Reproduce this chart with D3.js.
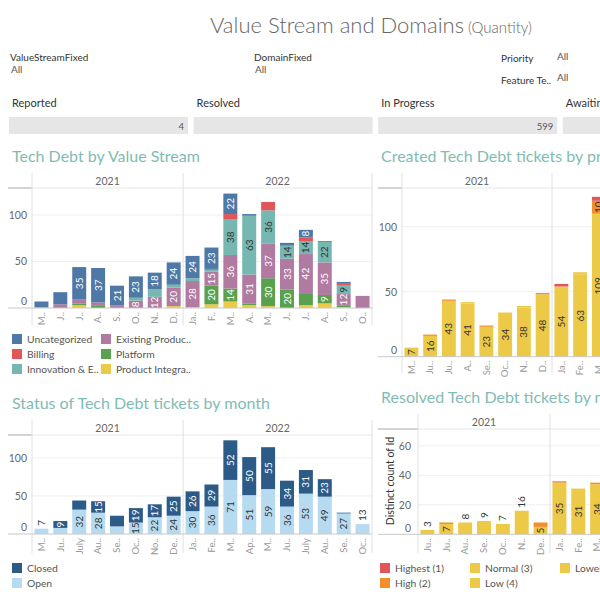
<!DOCTYPE html>
<html><head><meta charset="utf-8">
<script src="https://cdn.jsdelivr.net/npm/d3@7"></script>
<style>
body{margin:0;background:#fff;overflow:hidden;}
svg{font-family:Lato,"Open Sans",sans-serif;display:block;}
</style></head><body>
<svg id="c" width="600" height="600"></svg>
<script>
// ---------------- DATA ----------------
const mainTitle = "Value Stream and Domains";
const subTitle = "(Quantity)";
const filterNames = ["ValueStreamFixed","DomainFixed","Priority","Feature Te.."];
const filterValues = ["All","All","All","All"];
const kpiNames = ["Reported","Resolved","In Progress","Awaiting"];
const kpiValues = ["4","","599",""];
const years = ["2021","2022"];

// Chart 1: Tech Debt by Value Stream
const vsTitle = "Tech Debt by Value Stream";
const vsMonths = ["M..","J..","J..","A..","S..","O..","N..","D..","Ja..","F..","M..","A..","M..","J..","J..","A..","S..","O.."];
const vsYear   = [0,0,0,0,0,0,0,0,1,1,1,1,1,1,1,1,1,1];
const productIntegra = [0,0,3,0,0,0,0,2, 1,4,7,3,2,0,3,5,1,0];
const platform       = [0,1,2,3,0,0,0,0, 0,20,14,2,30,20,13,9,2,1];
const existingProd   = [0,3,4,3,3,8,12,20, 28,15,36,31,37,33,42,35,12,12];
const innovation     = [1,0,0,0,0,3,8,3, 3,2,38,63,36,14,14,22,9,0];
const billing        = [0,0,0,0,0,0,0,0, 0,1,6,1,9,0,4,1,2,0];
const uncategorized  = [6,13,35,37,21,23,18,24, 24,23,22,1,0,3,8,0,2,0];
const vsHidden = ["unc|1","inn|6","pla|14","exi|17","bil|12"];
const vsTicks = [0,50,100];

// Chart 2: Created Tech Debt tickets by priority
const crTitle = "Created Tech Debt tickets by priority";
const crMonths = ["M..","Ju..","Ju..","A..","Se..","Oc..","N..","D..","Ja..","Fe..","M..","A..","M..","J..","J..","A..","S..","O.."];
const crYear   = [0,0,0,0,0,0,0,0,1,1,1,1,1,1,1,1,1,1];
const crNormal  = [7,16,43,41,23,34,38,48,54,63,109,null,null,null,null,null,null,null];
const crLow     = [0,0,0,1,0,0,1,0,0,2,1,null,null,null,null,null,null,null];
const crHigh    = [0,1,1,0,1,0,0,1,0,0,10,null,null,null,null,null,null,null];
const crHighest = [0,0,0,0,0,0,0,0,2,0,3,null,null,null,null,null,null,null];
const crTicks = [0,50,100];

// Chart 3: Status of Tech Debt tickets by month
const stTitle = "Status of Tech Debt tickets by month";
const stMonths = ["M..","Ju..","July","Au..","Se..","Oc..","No..","De..","Ja..","Fe..","M..","Ap..","M..","Ju..","July","Au..","Se..","Oc.."];
const stYear   = [0,0,0,0,0,0,0,0,1,1,1,1,1,1,1,1,1,1];
const stOpen   = [7,8,32,28,10,15,22,24, 30,36,71,51,59,36,53,49,27,13];
const stClosed = [0,9,12,15,14,19,17,25, 26,29,52,50,55,34,31,23,1,0];
const stHidden = ["ope|1","clo|2","ope|4","clo|4"];
const stTicks = [0,50,100];

// Chart 4: Resolved Tech Debt tickets by month
const rsTitle = "Resolved Tech Debt tickets by month";
const rsAxisTitle = "Distinct count of Id";
const rsMonths = ["Ju..","Ju..","Au..","Se..","Oc..","N..","De..","Ja..","Fe..","M..","A..","M..","J..","J..","A..","S..","O.."];
const rsYear   = [0,0,0,0,0,0,0,1,1,1,1,1,1,1,1,1,1];
const rsNormal  = [3,7,8,9,7,16,5,35,31,34,null,null,null,null,null,null,null];
const rsHigh    = [0,1,0,0,0,0,3,1,0,1,null,null,null,null,null,null,null];
const rsHighest = [0,0,0,0,0,0,0,0,0,0,null,null,null,null,null,null,null];
const rsTicks = [0,20,40,60];

// legends
const vsLegend = ["Uncategorized","Existing Produc..","Billing","Platform","Innovation & E..","Product Integra.."];
const stLegend = ["Closed","Open"];
const prLegend = ["Highest (1)","Normal (3)","Lowest (5)","High (2)","Low (4)"];

// ---------------- STYLE ----------------
const C = {unc:"#4e79a7", exi:"#b07aa1", bil:"#e15759", pla:"#59a14f", inn:"#76b7b2", pro:"#edc948",
  highest:"#e15759", high:"#f28e2b", normal:"#edc948", low:"#edc948", lowest:"#edc948",
  closed:"#2d5b88", open:"#b6dbf0"};
const TEAL = "#7fbcb4";
const F = 'Lato, "Open Sans", sans-serif';
const svg = d3.select("#c");

// ---------------- HEADER ----------------
const tt = svg.append("text").attr("x",210).attr("y",33).attr("fill","#666").style("font-size","22px").style("font-weight",300).text(mainTitle);
tt.append("tspan").attr("dx",4).style("font-size","15px").text(subTitle);

const filterLayout = [[10,57,11,69],[254,57,255,69],[501,58,557,56],[501,80,557,77]];
filterNames.forEach((f,i)=>{
  const p = filterLayout[i];
  svg.append("text").attr("x",p[0]).attr("y",p[1]+3.5).attr("fill","#333").style("font-size","10px").text(f);
  svg.append("text").attr("x",p[2]).attr("y",p[3]+3.5).attr("fill","#555").style("font-size","10px").text(filterValues[i]);
});
kpiNames.forEach((k,i)=>{
  const bx = 9 + i*184.6;
  svg.append("text").attr("x",bx+3).attr("y",107).attr("fill","#333").style("font-size","11px").text(k);
  svg.append("rect").attr("x",bx).attr("y",117).attr("width",179).attr("height",17).attr("fill","#e6e6e6");
  svg.append("text").attr("x",bx+175).attr("y",129.5).attr("text-anchor","end").attr("fill","#555").style("font-size","9.5px").text(kpiValues[i]);
});

// ---------------- CHART FUNCTION ----------------
function chart(o){
  const g = svg.append("g");
  const n = o.cats.length;
  const xEnd = o.x0 + o.step*n;
  const x = d3.scaleBand().domain(d3.range(n)).range([o.x0, xEnd]).paddingInner(0.26).paddingOuter(0.13);
  const y = d3.scaleLinear().domain([0,o.yMax]).range([o.base,o.hLine]);
  const step = x.step();
  const bound = i => o.x0 + step*i;

  g.append("text").attr("x",o.titleX).attr("y",o.titleY).attr("fill",TEAL).style("font-size","16px").text(o.title);

  g.append("g").selectAll("line").data(o.ticks.filter(t=>t>0)).join("line")
    .attr("x1",o.x0).attr("x2",xEnd).attr("y1",d=>y(d)).attr("y2",d=>y(d)).attr("stroke","#efefef");
  g.append("line").attr("x1",o.left).attr("x2",o.x0).attr("y1",o.hLine).attr("y2",o.hLine).attr("stroke","#d4d4d4").attr("stroke-width",2);
  g.append("line").attr("x1",o.x0).attr("x2",xEnd).attr("y1",o.hLine).attr("y2",o.hLine).attr("stroke","#e6e6e6");

  const panes = years.map((yr,k)=>{
    const idx = d3.range(n).filter(i=>o.yearIdx[i]===k);
    return {yr, a: bound(idx[0]), b: bound(idx[idx.length-1]+1)};
  });
  const vx = [panes[0].a, ...panes.map(p=>p.b)];
  g.append("g").selectAll("line").data(vx).join("line")
    .attr("x1",d=>d).attr("x2",d=>d).attr("y1",o.hTop).attr("y2",o.bottom).attr("stroke","#e0e0e0");
  g.append("g").selectAll("text").data(panes).join("text")
    .attr("x",d=>(d.a+d.b)/2).attr("y",o.hText).attr("text-anchor","middle").attr("fill","#666")
    .style("font-size","10.5px").text(d=>d.yr);

  const keys = o.series.map(s=>s.key);
  const rows = d3.range(n).map(i=>{const r={i}; o.series.forEach(s=>r[s.key]=s.values[i]); return r;});
  const stacked = d3.stack().keys(keys).value((d,k)=>d[k]==null?0:d[k])(rows);
  stacked.forEach((layer,li)=>{
    const s = o.series[li];
    g.append("g").selectAll("rect").data(layer.filter(d=>d[1]>d[0])).join("rect")
      .attr("x",d=>x(d.data.i)).attr("width",x.bandwidth())
      .attr("y",d=>y(d[1])).attr("height",d=>y(d[0])-y(d[1])).attr("fill",s.color);
  });

  g.append("line").attr("x1",o.left).attr("x2",xEnd).attr("y1",y(0)).attr("y2",y(0)).attr("stroke","#c8c8c8");

  const lg = g.append("g").style("font-size","10px");
  stacked.forEach((layer,li)=>{
    const s = o.series[li];
    layer.forEach(d=>{
      const v = d[1]-d[0], i = d.data.i;
      if(!(v>=s.labelMin) || (o.hidden||[]).includes(s.key+"|"+i)) return;
      const total = keys.reduce((a,k)=>a+(d.data[k]||0),0);
      const h = y(d[0])-y(d[1]);
      const cx = x(i)+x.bandwidth()/2;
      const t = lg.append("text").attr("dy","0.35em").text(v);
      if(total===v && h<o.outside){
        t.attr("text-anchor","start").attr("fill","#333")
         .attr("transform",`translate(${cx},${y(d[1])-3}) rotate(-90)`);
      } else {
        t.attr("text-anchor","middle").attr("fill",s.text)
         .attr("transform",`translate(${cx},${(y(d[0])+y(d[1]))/2}) rotate(-90)`);
      }
    });
  });

  const ya = g.append("g").attr("transform",`translate(${o.yLabelX},0)`)
    .call(d3.axisLeft(y).tickValues(o.ticks).tickSize(0).tickPadding(0));
  ya.attr("font-family",F).attr("font-size",10.5);
  ya.select(".domain").remove();
  ya.selectAll("text").attr("fill","#666").attr("y",d=>d===0?-6.5:0);

  const xa = g.append("g").attr("transform",`translate(0,${o.base})`)
    .call(d3.axisBottom(x).tickFormat(i=>o.cats[i]).tickSize(0));
  xa.attr("font-family",F).attr("font-size",9.5);
  xa.select(".domain").remove();
  xa.selectAll("text").attr("transform","rotate(-90)").attr("text-anchor","end")
    .attr("x",-4).attr("y",0).attr("dy","0.35em").attr("fill","#999");
  return {g,x,y};
}

function legend(items, colors, cols, x0s, textXs, ys){
  items.forEach((it,i)=>{
    const c = i % cols, r = Math.floor(i/cols);
    svg.append("rect").attr("x",x0s[c]).attr("y",ys[r]-5).attr("width",10).attr("height",10).attr("fill",colors[i]);
    svg.append("text").attr("x",textXs[c]).attr("y",ys[r]+3.8).attr("fill","#555").style("font-size","10.3px").text(it);
  });
}

// ---------------- CHART 1 ----------------
chart({title:vsTitle, titleX:12, titleY:161.5, cats:vsMonths, yearIdx:vsYear,
  x0:32, step:(372-32)/18, left:8, hTop:173, hText:185, hLine:188, base:308, bottom:325,
  yMax:129, ticks:vsTicks, yLabelX:27, outside:0, hidden:vsHidden,
  series:[
    {key:"pro", values:productIntegra, color:C.pro, text:"#333", labelMin:8},
    {key:"pla", values:platform, color:C.pla, text:"#fff", labelMin:8},
    {key:"exi", values:existingProd, color:C.exi, text:"#fff", labelMin:8},
    {key:"inn", values:innovation, color:C.inn, text:"#333", labelMin:8},
    {key:"bil", values:billing, color:C.bil, text:"#fff", labelMin:8},
    {key:"unc", values:uncategorized, color:C.unc, text:"#fff", labelMin:8}
  ]});
legend(vsLegend, [C.unc,C.exi,C.bil,C.pla,C.inn,C.pro], 2, [12,101], [27,116], [339,354,369]);

// ---------------- CHART 2 ----------------
chart({title:crTitle, titleX:381, titleY:161.5, cats:crMonths, yearIdx:crYear,
  x0:402, step:18.75, left:378, hTop:173, hText:185, hLine:188, base:356.7, bottom:373,
  yMax:129.8, ticks:crTicks, yLabelX:397, outside:0, hidden:[],
  series:[
    {key:"nor", values:crNormal, color:C.normal, text:"#333", labelMin:7},
    {key:"low", values:crLow, color:C.low, text:"#333", labelMin:99},
    {key:"hig", values:crHigh, color:C.high, text:"#333", labelMin:10},
    {key:"hst", values:crHighest, color:C.highest, text:"#333", labelMin:99}
  ]});

// ---------------- CHART 3 ----------------
chart({title:stTitle, titleX:12, titleY:409, cats:stMonths, yearIdx:stYear,
  x0:32, step:(372-32)/18, left:8, hTop:420, hText:432, hLine:435, base:534, bottom:553,
  yMax:130, ticks:stTicks, yLabelX:27, outside:30, hidden:stHidden,
  series:[
    {key:"ope", values:stOpen, color:C.open, text:"#333", labelMin:5},
    {key:"clo", values:stClosed, color:C.closed, text:"#fff", labelMin:5}
  ]});
legend(stLegend, [C.closed,C.open], 1, [12], [27], [568,583]);

// ---------------- CHART 4 ----------------
chart({title:rsTitle, titleX:381, titleY:403, cats:rsMonths, yearIdx:rsYear,
  x0:418, step:(550-418)/7, left:378, hTop:414, hText:426, hLine:429, base:534.3, bottom:553,
  yMax:71.4, ticks:rsTicks, yLabelX:411, outside:30, hidden:[],
  series:[
    {key:"nor", values:rsNormal, color:C.normal, text:"#333", labelMin:1},
    {key:"hig", values:rsHigh, color:C.high, text:"#333", labelMin:99},
    {key:"hst", values:rsHighest, color:C.highest, text:"#333", labelMin:99}
  ]});
svg.append("text").attr("transform","translate(390,481) rotate(-90)").attr("text-anchor","middle")
  .attr("dy","0.35em").attr("fill","#333").style("font-size","10.5px").text(rsAxisTitle);
legend(prLegend, [C.highest,C.normal,C.lowest,C.high,C.low], 3, [380,470,560], [395,485,575], [568,583]);
</script>
</body></html>
